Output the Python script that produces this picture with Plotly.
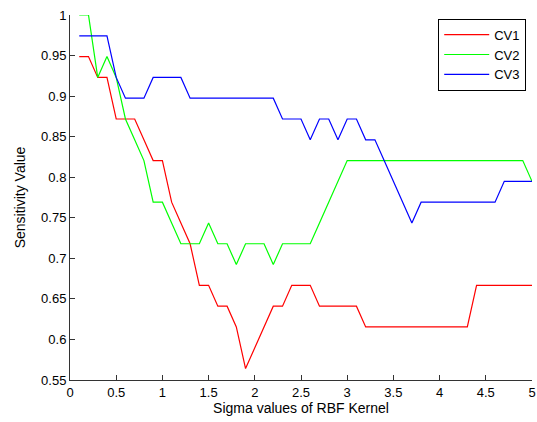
import plotly.graph_objects as go

sigma = [round(0.1 * i, 1) for i in range(1, 51)]
# sensitivity values expressed as counts out of 39
cv1_counts = [37, 37, 36, 36, 34, 34, 34, 33, 32, 32,
              30, 29, 28, 26, 26, 25, 25, 24, 22, 23,
              24, 25, 25, 26, 26, 26, 25, 25, 25, 25,
              25, 24, 24, 24, 24, 24, 24, 24, 24, 24,
              24, 24, 24, 26, 26, 26, 26, 26, 26, 26]
cv2_counts = [39, 39, 36, 37, 36, 34, 33, 32, 30, 30,
              29, 28, 28, 28, 29, 28, 28, 27, 28, 28,
              28, 27, 28, 28, 28, 28, 29, 30, 31, 32,
              32, 32, 32, 32, 32, 32, 32, 32, 32, 32,
              32, 32, 32, 32, 32, 32, 32, 32, 32, 31]
cv3_counts = [38, 38, 38, 38, 36, 35, 35, 35, 36, 36,
              36, 36, 35, 35, 35, 35, 35, 35, 35, 35,
              35, 35, 34, 34, 34, 33, 34, 34, 33, 34,
              34, 33, 33, 32, 31, 30, 29, 30, 30, 30,
              30, 30, 30, 30, 30, 30, 31, 31, 31, 31]
total = 39
series_names = ["CV1", "CV2", "CV3"]
series_colors = ["#ff0000", "#00ff00", "#0000ff"]

x_ticks = [0, 0.5, 1, 1.5, 2, 2.5, 3, 3.5, 4, 4.5, 5]
y_ticks = [0.55, 0.6, 0.65, 0.7, 0.75, 0.8, 0.85, 0.9, 0.95, 1]

fig = go.Figure()
for name, counts, color in zip(series_names, [cv1_counts, cv2_counts, cv3_counts], series_colors):
    fig.add_trace(go.Scatter(
        x=sigma, y=[c / total for c in counts], mode="lines", name=name,
        line=dict(color=color, width=1.2)))

family = "Liberation Sans, Arial, sans-serif"
tick_font = dict(family=family, size=13, color="#000000")
title_font = dict(family=family, size=14, color="#000000")
fig.update_layout(
    width=537, height=422,
    margin=dict(l=70, r=5, t=15, b=42),
    paper_bgcolor="white", plot_bgcolor="white",
    font=tick_font,
    showlegend=True,
    legend=dict(x=0.797, y=0.99, xanchor="left", yanchor="top",
                bgcolor="white", bordercolor="#000000", borderwidth=1,
                font=dict(family=family, size=13, color="#000000"),
                itemwidth=45, tracegroupgap=0),
    xaxis=dict(range=[0, 5], tickvals=x_ticks, ticks="inside", ticklen=5,
               tickcolor="#333333", showline=True, linecolor="#333333", linewidth=1,
               showgrid=False, zeroline=False, mirror=False, automargin=False,
               tickfont=tick_font,
               title=dict(text="Sigma values of RBF Kernel", font=title_font, standoff=4)),
    yaxis=dict(range=[0.55, 1], tickvals=y_ticks, ticks="inside", ticklen=5,
               tickcolor="#333333", showline=True, linecolor="#333333", linewidth=1,
               showgrid=False, zeroline=False, mirror=False, automargin=False,
               tickfont=tick_font,
               title=dict(text="Sensitivity Value", font=title_font, standoff=12)),
)
fig.write_html("out.html", config={"displayModeBar": False},
               post_script="document.body.style.margin='0';document.body.style.overflow='hidden';")
